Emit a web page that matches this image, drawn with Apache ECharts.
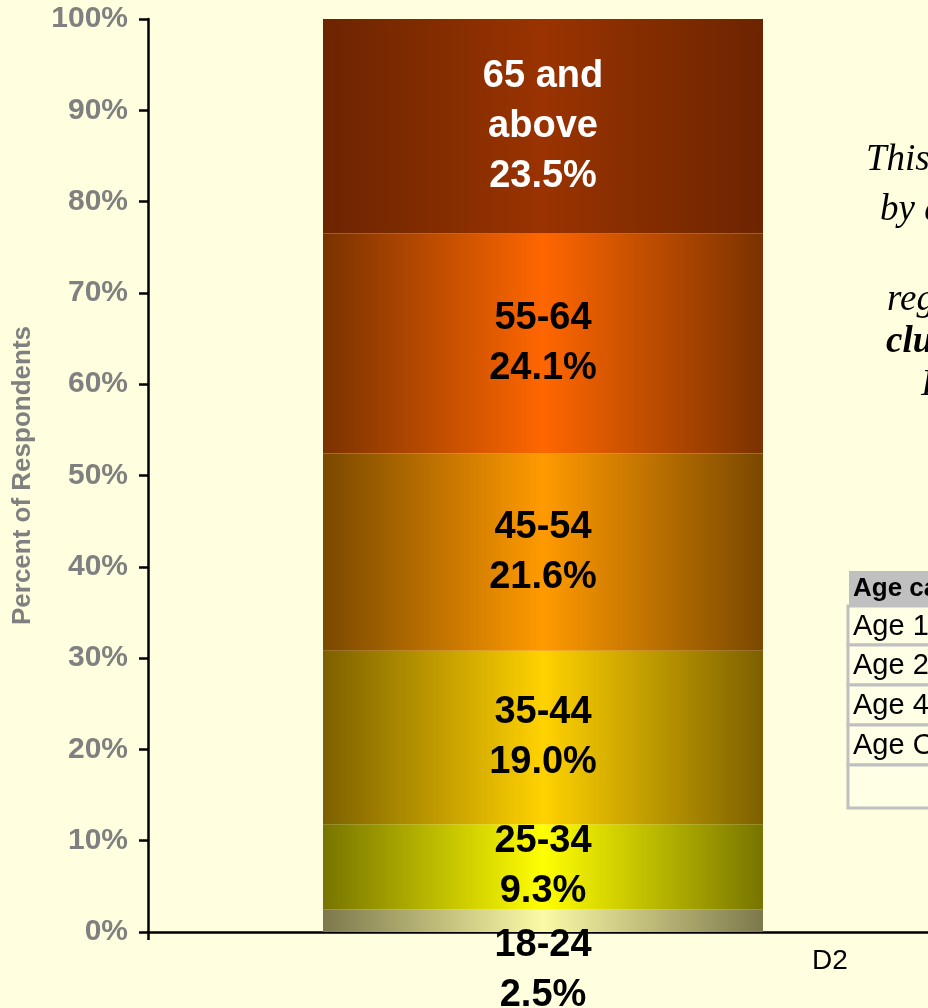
<!DOCTYPE html>
<html>
<head>
<meta charset="utf-8">
<script src="https://cdn.jsdelivr.net/npm/echarts@6/dist/echarts.min.js"></script>
<style>
  html, body { margin: 0; padding: 0; background: #ffffe0; }
  #chart { width: 928px; height: 1008px; }
</style>
</head>
<body>
<div id="chart"></div>
<script>
// 数据
const categories = ['D2']
const ageGroups = ['18-24', '25-34', '35-44', '45-54', '55-64', '65 and\nabove']
const shares = [2.5, 9.3, 19.0, 21.6, 24.1, 23.5]
const yTickLabels = ['0%', '10%', '20%', '30%', '40%', '50%', '60%', '70%', '80%', '90%', '100%']
const tableRows = ['Age 18-24', 'Age 25-44', 'Age 45-64', 'Age Over 65', '']
const noteLines = ['This chart shows', 'by age group', '', 'regarding', 'cluster', 'I']

// 每段的渐变颜色（边缘、中心）
const edgeColors = ['#7d784c', '#777400', '#7c6000', '#7a4800', '#7a3200', '#6c2500']
const centerColors = ['#fbfaa6', '#ffff00', '#ffd200', '#ff9a00', '#ff6600', '#9a3300']
const labelColors = ['#000', '#000', '#000', '#000', '#000', '#fff']

function grad(i) {
  return new echarts.graphic.LinearGradient(0, 0, 1, 0, [
    { offset: 0, color: edgeColors[i] },
    { offset: 0.5, color: centerColors[i] },
    { offset: 1, color: edgeColors[i] },
  ])
}

const series = ageGroups.map((name, i) => ({
  name: name,
  type: 'bar',
  stack: 'age',
  barWidth: 440,
  data: [shares[i]],
  itemStyle: { color: grad(i) },
  label: {
    show: true,
    position: 'inside',
    offset: i === 0 ? [0, 50] : [0, 0],
    color: labelColors[i],
    fontFamily: 'Liberation Sans, Arial, sans-serif',
    fontWeight: 'bold',
    fontSize: 38,
    lineHeight: 50,
    formatter: (p) => p.seriesName + '\n' + p.value.toFixed(1) + '%',
  },
}))

const graphics = []
// 右侧的说明文字（被裁切）
const noteX = [866, 880, 0, 887, 886, 921]
const noteY = [160, 210, 0, 300, 342, 385]
noteLines.forEach((t, i) => {
  if (!t) return
  graphics.push({
    type: 'text',
    x: noteX[i],
    y: noteY[i],
    style: {
      text: t,
      fill: '#000',
      font: (i === 4 ? 'italic bold ' : 'italic ') + '37px "Liberation Serif", serif',
      textVerticalAlign: 'middle',
    },
  })
})
// 表格
graphics.push({
  type: 'rect',
  shape: { x: 849, y: 571, width: 100, height: 35 },
  style: { fill: '#c0c0c0' },
})
graphics.push({
  type: 'text',
  x: 853,
  y: 589,
  style: {
    text: 'Age category',
    fill: '#000',
    font: 'bold 26px "Liberation Sans", Arial, sans-serif',
    textVerticalAlign: 'middle',
  },
})
const rowTop = [606, 645, 685, 725, 765]
const rowH = [39, 40, 40, 40, 43]
tableRows.forEach((t, i) => {
  graphics.push({
    type: 'rect',
    shape: { x: 848, y: rowTop[i], width: 100, height: rowH[i] },
    style: { fill: '#ffffe6', stroke: '#c0c0c0', lineWidth: 3 },
  })
  if (t) {
    graphics.push({
      type: 'text',
      x: 853,
      y: rowTop[i] + rowH[i] / 2 + 1,
      style: {
        text: t,
        fill: '#000',
        font: '29px "Liberation Sans", Arial, sans-serif',
        textVerticalAlign: 'middle',
      },
    })
  }
})
graphics.push({
  type: 'text',
  x: 812,
  y: 961,
  style: {
    text: categories[0],
    fill: '#000',
    font: '28px "Liberation Sans", Arial, sans-serif',
    textVerticalAlign: 'middle',
  },
})

const chart = echarts.init(document.getElementById('chart'))
chart.setOption({
  backgroundColor: '#ffffe0',
  animation: false,
  grid: { left: 148, top: 19, width: 790, height: 913, outerBoundsMode: 'none', containLabel: false },
  xAxis: {
    type: 'category',
    data: categories,
    axisLine: { lineStyle: { color: '#000', width: 2.5 } },
    axisTick: { show: true, length: 8, lineStyle: { color: '#000', width: 2.5 } },
    axisLabel: { show: false },
  },
  yAxis: {
    type: 'value',
    min: 0,
    max: 100,
    interval: 10,
    name: 'Percent of Respondents',
    nameLocation: 'middle',
    nameRotate: 90,
    nameGap: 112,
    nameTextStyle: {
      color: '#808080',
      fontWeight: 'bold',
      fontSize: 26,
      fontFamily: 'Liberation Sans, Arial, sans-serif',
    },
    axisLine: { show: true, lineStyle: { color: '#000', width: 2.5 } },
    axisTick: { show: true, length: 9, lineStyle: { color: '#000', width: 2.5 } },
    splitLine: { show: false },
    axisLabel: {
      margin: 20,
      color: '#808080',
      fontWeight: 'bold',
      fontSize: 30,
      fontFamily: 'Liberation Sans, Arial, sans-serif',
      formatter: (v) => yTickLabels[Math.round(v / 10)],
    },
  },
  series: series,
  graphic: graphics,
})
</script>
</body>
</html>
